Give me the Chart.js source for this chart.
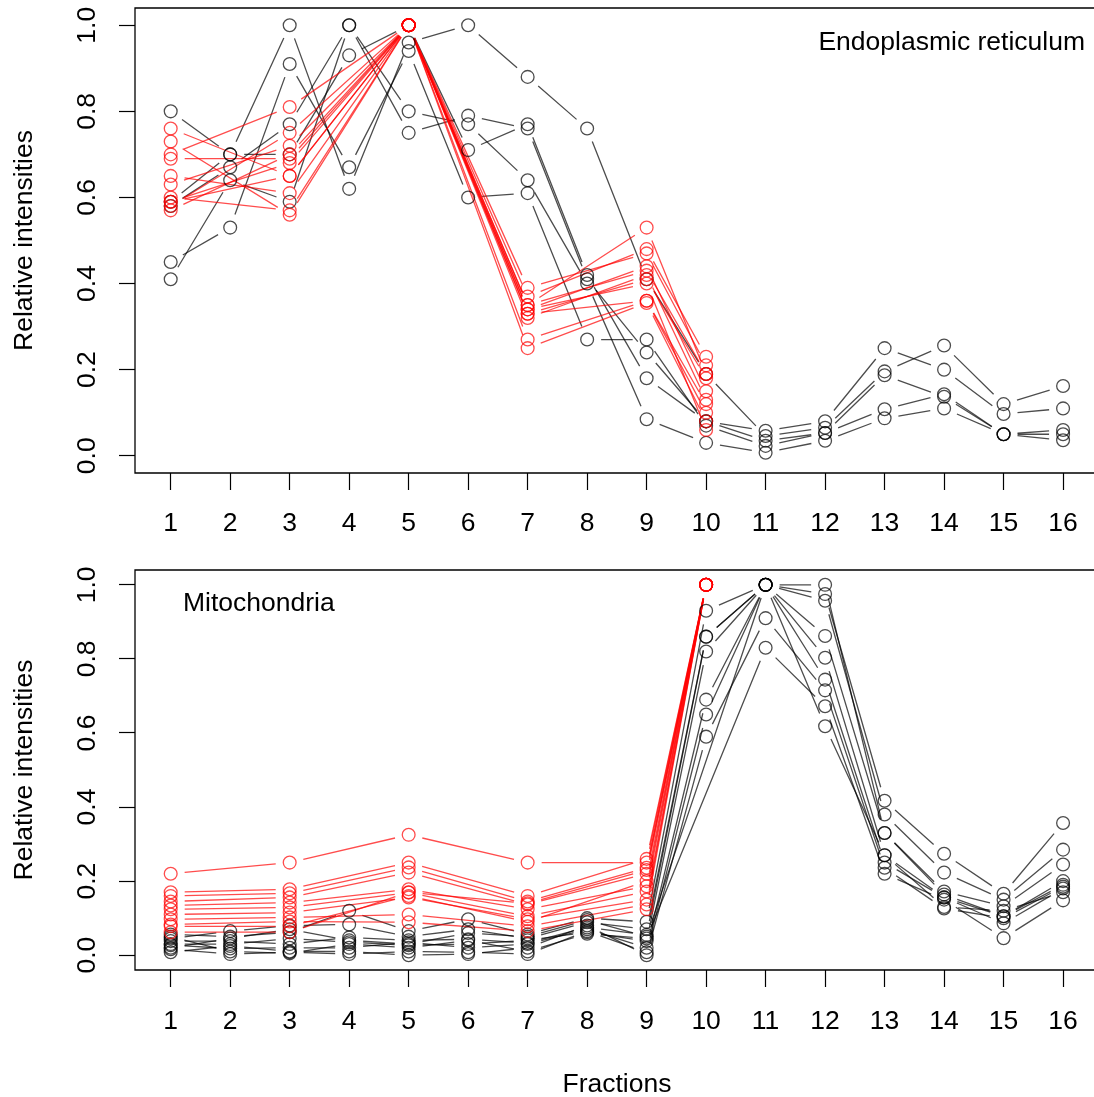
<!DOCTYPE html>
<html>
<head>
<meta charset="utf-8">
<script src="https://cdn.jsdelivr.net/npm/chart.js@4.4.1/dist/chart.umd.min.js"></script>
<style>
    html, body { margin: 0; padding: 0; background: #fff; overflow: hidden; }
    #wrap { position: relative; width: 1094px; height: 1097px; overflow: hidden; }
    canvas { position: absolute; left: 0; }
    #chartEr { top: 0; }
    #chartMito { top: 545px; }
</style>
</head>
<body>
<div id="wrap">
<canvas id="chartEr" width="1094" height="545"></canvas>
<canvas id="chartMito" width="1094" height="552"></canvas>
</div>
<script>
// Fractions and ticks
const fractions = [1, 2, 3, 4, 5, 6, 7, 8, 9, 10, 11, 12, 13, 14, 15, 16];
const yTicks = [0, 0.2, 0.4, 0.6, 0.8, 1.0];
// marker profiles were only measured on these fractions
const markerFractions = [1, 3, 5, 7, 9, 10];

// --- Endoplasmic reticulum panel ---
const erOthers = [
    [0.80, 0.70, 1.00, 0.62, 0.96, 1.00, 0.88, 0.76, 0.41, 0.19, 0.046, 0.065, 0.196, 0.256, 0.12, 0.162],
    [0.59, 0.70, 0.70, 0.93, 1.00, 0.71, 0.77, 0.42, 0.18, 0.08, 0.058, 0.08, 0.25, 0.20, 0.097, 0.11],
    [0.58, 0.67, 0.77, 1.00, 0.80, 0.77, 0.64, 0.40, 0.085, 0.03, 0.007, 0.035, 0.087, 0.11, 0.05, 0.036],
    [0.41, 0.64, 0.59, 1.00, 0.75, 0.79, 0.76, 0.41, 0.24, 0.08, 0.035, 0.053, 0.187, 0.137, 0.05, 0.05],
    [0.45, 0.53, 0.91, 0.67, 0.94, 0.60, 0.61, 0.27, 0.27, 0.07, 0.023, 0.053, 0.108, 0.143, 0.05, 0.06]
];
const erMarkers = [
    [0.76, 0.65, 1, 0.35, 0.43, 0.19],
    [0.73, 0.56, 1, 0.33, 0.36, 0.12],
    [0.70, 0.81, 1, 0.27, 0.36, 0.10],
    [0.69, 0.69, 1, 0.39, 0.47, 0.21],
    [0.65, 0.61, 1, 0.34, 0.44, 0.15],
    [0.63, 0.72, 1, 0.33, 0.41, 0.18],
    [0.60, 0.57, 1, 0.37, 0.48, 0.23],
    [0.59, 0.68, 1, 0.25, 0.355, 0.08],
    [0.58, 0.75, 1, 0.35, 0.53, 0.19],
    [0.57, 0.70, 1, 0.32, 0.42, 0.13],
    [0.59, 0.65, 1, 0.34, 0.40, 0.06]
];

// --- Mitochondria panel ---
const mitoOthers = [
    [0.056, 0.05, 0.062, 0.12, 0.065, 0.097, 0.056, 0.10, 0.09, 0.93, 1.0, 0.975, 0.417, 0.274, 0.166, 0.357],
    [0.045, 0.065, 0.08, 0.083, 0.05, 0.07, 0.045, 0.089, 0.07, 0.86, 1.0, 0.957, 0.38, 0.223, 0.15, 0.285],
    [0.038, 0.038, 0.03, 0.048, 0.04, 0.043, 0.033, 0.075, 0.055, 0.86, 1.0, 1.0, 0.33, 0.172, 0.132, 0.245],
    [0.03, 0.03, 0.045, 0.035, 0.027, 0.03, 0.04, 0.062, 0.038, 0.82, 1.0, 0.862, 0.33, 0.164, 0.105, 0.2],
    [0.027, 0.018, 0.02, 0.02, 0.035, 0.02, 0.03, 0.07, 0.02, 0.69, 1.0, 0.803, 0.27, 0.156, 0.105, 0.19],
    [0.016, 0.003, 0.008, 0.003, 0.01, 0.008, 0.003, 0.065, 0.008, 0.65, 1.0, 0.744, 0.25, 0.156, 0.086, 0.18],
    [0.008, 0.025, 0.01, 0.01, 0.0, 0.003, 0.02, 0.08, 0.0, 0.59, 0.91, 0.715, 0.236, 0.126, 0.10, 0.185],
    [0.05, 0.01, 0.005, 0.03, 0.02, 0.04, 0.01, 0.058, 0.045, null, 0.83, 0.672, 0.22, 0.15, 0.046, 0.148],
    [0.02, 0.045, 0.07, 0.04, 0.03, 0.06, 0.05, 0.095, 0.05, null, 1.0, 0.618, 0.27, 0.13, 0.12, 0.17]
];
const mitoMarkers = [
    [0.22, 0.25, 0.325, 0.25, 0.25, 1],
    [0.17, 0.178, 0.25, 0.16, 0.26, 1],
    [0.16, 0.167, 0.237, 0.145, 0.236, 1],
    [0.145, 0.156, 0.223, 0.137, 0.22, 1],
    [0.134, 0.142, 0.178, 0.124, 0.186, 1],
    [0.124, 0.129, 0.169, 0.105, 0.172, 1],
    [0.11, 0.115, 0.156, 0.097, 0.15, 1],
    [0.097, 0.102, 0.11, 0.078, 0.137, 1],
    [0.083, 0.091, 0.089, 0.065, 0.124, 1],
    [0.078, 0.078, 0.16, 0.09, 0.20, 1],
    [0.062, 0.062, 0.17, 0.14, 0.23, 1]
];

const BLACK = 'rgba(0, 0, 0, 0.7)';
const RED = 'rgba(255, 0, 0, 0.7)';
const FONT = '26.5px "Liberation Sans", Arial, Helvetica, sans-serif';

function toPoints(values, xs) {
    return values.map((v, i) => v == null ? null : { x: xs[i], y: v }).filter(p => p);
}

function profileDataset(values, xs, color) {
    return {
        data: toPoints(values, xs),
        borderColor: color,
        pointBorderColor: color,
        pointBackgroundColor: 'rgba(0,0,0,0)',
        pointRadius: 6.4,
        pointBorderWidth: 1.3,
        showLine: false
    };
}

// R type="b": segments between points, stopping short of each circle
const gapLines = {
    id: 'gapLines',
    beforeDatasetsDraw(chart) {
        const ctx = chart.ctx;
        const gap = 14;
        ctx.save();
        ctx.lineWidth = 1.3;
        for (let i = chart.data.datasets.length - 1; i >= 0; i--) {
            const pts = chart.getDatasetMeta(i).data;
            ctx.strokeStyle = chart.data.datasets[i].borderColor;
            ctx.beginPath();
            for (let j = 1; j < pts.length; j++) {
                const a = pts[j - 1], b = pts[j];
                const dx = b.x - a.x, dy = b.y - a.y;
                const len = Math.hypot(dx, dy);
                if (len <= 2 * gap) continue;
                const ux = dx / len, uy = dy / len;
                ctx.moveTo(a.x + ux * gap, a.y + uy * gap);
                ctx.lineTo(b.x - ux * gap, b.y - uy * gap);
            }
            ctx.stroke();
        }
        ctx.restore();
    }
};

// box (its right side falls off the picture), tick labels and titles in base-R style
const frame = {
    id: 'frame',
    afterDraw(chart, args, opts) {
        const ctx = chart.ctx;
        const area = chart.chartArea;
        const xs = chart.scales.x, ys = chart.scales.y;
        ctx.save();
        ctx.strokeStyle = '#000';
        ctx.lineWidth = 1.3;
        ctx.beginPath();
        ctx.moveTo(area.right + 10, area.top);
        ctx.lineTo(area.left, area.top);
        ctx.lineTo(area.left, area.bottom);
        ctx.lineTo(area.right + 10, area.bottom);
        ctx.stroke();

        ctx.fillStyle = '#000';
        ctx.font = FONT;
        ctx.textAlign = 'center';
        ctx.textBaseline = 'middle';
        fractions.forEach(v => {
            ctx.fillText(String(v), xs.getPixelForValue(v), area.bottom + opts.tickDy);
        });
        yTicks.forEach(v => {
            ctx.save();
            ctx.translate(area.left - 47, ys.getPixelForValue(v));
            ctx.rotate(-Math.PI / 2);
            ctx.fillText(v.toFixed(1), 0, 0);
            ctx.restore();
        });

        ctx.save();
        ctx.translate(25, (area.top + area.bottom) / 2);
        ctx.rotate(-Math.PI / 2);
        ctx.fillText('Relative intensities', 0, 0);
        ctx.restore();

        ctx.textAlign = opts.align;
        ctx.fillText(opts.label, opts.labelX, area.top + opts.labelDy);

        if (opts.xTitle) {
            ctx.textAlign = 'center';
            ctx.fillText(opts.xTitle, 617, area.bottom + 115);
        }
        ctx.restore();
    }
};

function makePanel(canvasId, others, markers, padTop, xHeight, frameOpts) {
    const datasets = [
        ...markers.map(m => profileDataset(m, markerFractions, RED)),
        ...others.map(o => profileDataset(o, fractions, BLACK))
    ];
    const ctx = document.getElementById(canvasId).getContext('2d');
    new Chart(ctx, {
        type: 'scatter',
        data: { datasets },
        options: {
            responsive: false,
            animation: false,
            events: [],
            layout: { autoPadding: false, padding: { top: padTop, right: 0, left: 0, bottom: 0 } },
            plugins: {
                legend: { display: false },
                tooltip: { enabled: false },
                frame: frameOpts
            },
            scales: {
                x: {
                    type: 'linear',
                    // R's range is 0.4..16.6, the picture is cut a little before 16.6
                    min: 0.4, max: 16.52,
                    afterBuildTicks: s => { s.ticks = fractions.map(v => ({ value: v })); },
                    afterFit: s => { s.height = xHeight; },
                    ticks: { display: false },
                    grid: { drawOnChartArea: false, drawTicks: true, tickLength: 17, tickColor: '#000', tickWidth: 1.2 },
                    border: { display: false }
                },
                y: {
                    type: 'linear',
                    min: -0.04, max: 1.04,
                    afterBuildTicks: s => { s.ticks = yTicks.map(v => ({ value: v })); },
                    afterFit: s => { s.width = 135; },
                    ticks: { display: false },
                    grid: { drawOnChartArea: false, drawTicks: true, tickLength: 16, tickColor: '#000', tickWidth: 1.2 },
                    border: { display: false }
                }
            }
        },
        plugins: [gapLines, frame]
    });
}

document.addEventListener('DOMContentLoaded', () => {
    makePanel('chartEr', erOthers, erMarkers, 8, 72,
        { label: 'Endoplasmic reticulum', labelX: 1085, labelDy: 35, align: 'right', tickDy: 51 });
    makePanel('chartMito', mitoOthers, mitoMarkers, 25, 127,
        { label: 'Mitochondria', labelX: 183, labelDy: 34, align: 'left', tickDy: 52, xTitle: 'Fractions' });
});
</script>
</body>
</html>
